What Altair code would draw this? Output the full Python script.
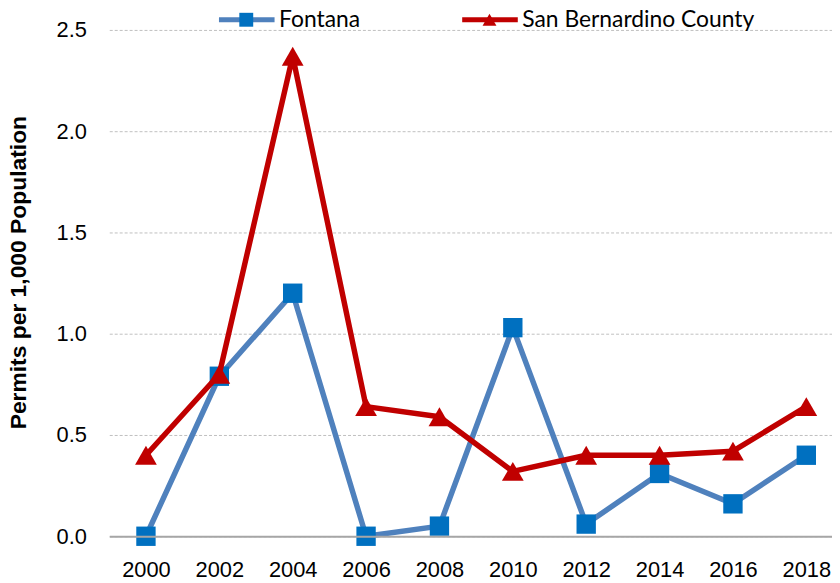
import altair as alt
import pandas as pd

years = [2000, 2002, 2004, 2006, 2008, 2010, 2012, 2014, 2016, 2018]
fontana = [0.0, 0.79, 1.20, 0.0, 0.05, 1.03, 0.06, 0.31, 0.16, 0.40]
sbc = [0.40, 0.80, 2.37, 0.64, 0.59, 0.32, 0.40, 0.40, 0.42, 0.64]
series = ["Fontana", "San Bernardino County"]
line_colors = ["#4F81BD", "#C00000"]
marker_colors = ["#0070C0", "#C00000"]
shapes = ["square", "triangle-up"]
y_ticks = [0, 0.5, 1.0, 1.5, 2.0, 2.5]
x_ticks = years

names = [series[0]] * len(years) + [series[1]] * len(years)
df = pd.DataFrame({
    "year": years + years,
    "value": fontana + sbc,
    "series": names,
    "marker": names,
})

TICK_FONT = "Liberation Sans"
LEG_FONT = "Lato"

x = alt.X(
    "year:Q",
    scale=alt.Scale(domain=[1999, 2018.7], nice=False, zero=False),
    axis=alt.Axis(values=x_ticks, format="d", grid=False, ticks=False,
                  domain=True, domainColor="#A6A6A6", domainWidth=2,
                  labelFont=TICK_FONT, labelFontSize=22, labelPadding=24,
                  labelColor="black", zindex=1, labelFlush=False,
                  labelOverlap=False),
    title=None,
)
y = alt.Y(
    "value:Q",
    scale=alt.Scale(domain=[0, 2.5], nice=False),
    axis=alt.Axis(values=y_ticks, format=".1f", grid=True, gridDash=[3, 2],
                  gridColor="#BFBFBF", gridWidth=1, domain=False, ticks=False,
                  labelFont=TICK_FONT, labelFontSize=22, labelPadding=23,
                  labelColor="black",
                  titleFont="Liberation Sans", titleFontWeight="bold",
                  titleFontSize=23, titlePadding=26, titleColor="black",
                  titleY=244),
    title="Permits per 1,000 Population",
)

leg_line = alt.Legend(
    orient="none", legendX=108, legendY=-41, direction="horizontal",
    title=None, symbolType="stroke", symbolSize=3136, symbolStrokeWidth=5,
    labelFont=LEG_FONT, labelFontSize=23, labelColor="black", labelOffset=2,
    labelLimit=400, columnPadding=92, padding=0,
)
leg_marker = alt.Legend(
    orient="none", legendX=126.5, legendY=-22, direction="horizontal",
    title=None, symbolSize=196, symbolStrokeWidth=0,
    labelExpr="''", labelFontSize=23, labelOffset=2,
    columnPadding=220, padding=0,
)

color = alt.Color("series:N", scale=alt.Scale(domain=series, range=line_colors),
                  legend=leg_line)
fill = alt.Fill("marker:N", scale=alt.Scale(range=marker_colors),
                legend=leg_marker)
shape = alt.Shape("marker:N", scale=alt.Scale(range=shapes),
                  legend=leg_marker)

base = alt.Chart(df)
layers = []
for s, sz in zip(series, [380, 480]):
    sub = base.transform_filter(alt.datum.series == s)
    layers.append(sub.mark_line(strokeWidth=5.5, strokeJoin="round",
                                strokeCap="round").encode(x=x, y=y, color=color))
    layers.append(sub.mark_point(filled=True, size=sz, opacity=1,
                                 strokeWidth=0).encode(x=x, y=y, fill=fill,
                                                       shape=shape))

chart = alt.layer(*layers).properties(
    width=728, height=510,
    autosize=alt.AutoSizeParams(type="none"),
    padding={"left": 102, "top": 20, "right": 0, "bottom": 45},
    background="white",
).configure_view(stroke=None)

chart.save("out.html", embed_options={"renderer": "svg", "actions": False})
